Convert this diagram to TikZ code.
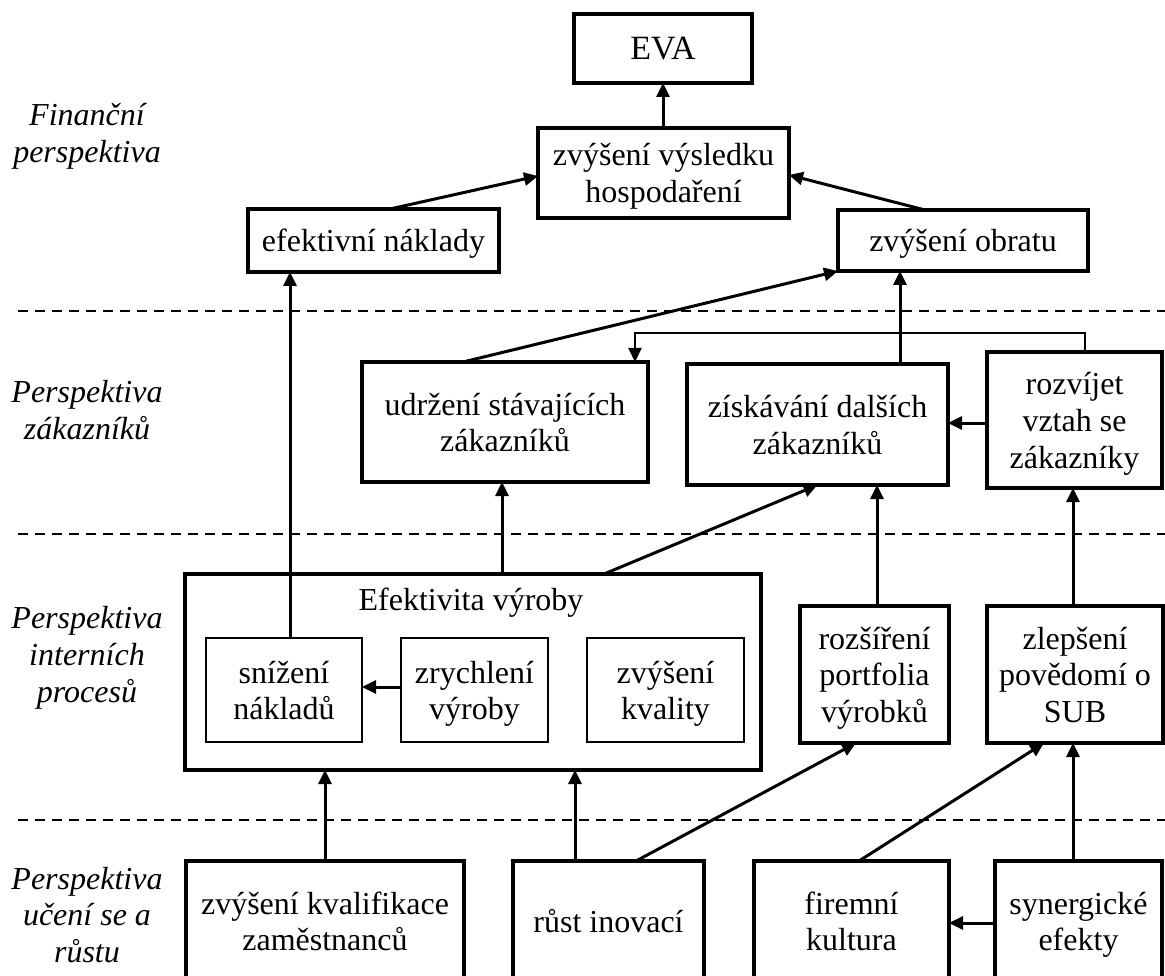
\documentclass[tikz,border=0pt]{standalone}
\usepackage{fontspec}
\setmainfont{Liberation Serif}
\usetikzlibrary{arrows.meta,calc}
\newcommand{\mytop}{\rule{0pt}{30.8pt}}
\newcommand{\mybot}{\rule[-8pt]{0pt}{8pt}}
\begin{document}
\begin{tikzpicture}[x=1pt,y=-1pt,
  every node/.style={font=\fontsize{32}{36.8}\selectfont, align=center, inner sep=0pt, outer sep=0pt},
  sz/.style 2 args={minimum width=#1pt, minimum height=#2pt},
  bx/.style={draw, line width=4pt},
  ibx/.style={draw, line width=2pt},
  arr/.style={line width=3pt, -{Triangle[length=14pt,width=13pt]}},
  thinarr/.style={line width=2pt, -{Triangle[length=14pt,width=13pt]}},
  dline/.style={line width=2pt, dash pattern=on 10pt off 7pt},
  lbl/.style={font=\fontsize{32}{36.8}\selectfont\itshape}]
\useasboundingbox (0,0) rectangle (1165,976);
\clip (0,0) rectangle (1165,976);

% separators
\draw[dline] (18,311) -- (1165,311);
\draw[dline] (18,534) -- (1165,534);
\draw[dline] (18,820) -- (1165,820);

% left labels
\node[lbl] (l1) at (87,136) {Finanční\\perspektiva};
\node[lbl] (l2) at (87,410) {Perspektiva\\zákazníků};
\node[lbl] (l3) at (87,658) {Perspektiva\\interních\\procesů};
\node[lbl] (l4) at (87,915) {Perspektiva\\učení se a\\růstu};

% boxes
\node[bx, sz={178}{69}, font=\fontsize{34}{39}\selectfont] (eva) at (663,48.5) {\mytop E{}V{}A\mybot};
\node[bx, sz={251}{90}] (vys) at (663.5,173) {\mytop zvýšení výsledku\\hospodaření\mybot};
\node[bx, sz={251}{63}] (efn) at (373.5,240.5) {\mytop efektivní náklady\mybot};
\node[bx, sz={250}{61}] (obr) at (963,240.5) {\mytop zvýšení obratu\mybot};
\node[bx, sz={286}{120}] (udr) at (505,422) {\mytop udržení stávajících\\zákazníků\mybot};
\node[bx, sz={261}{121}] (zis) at (817.5,424.5) {\mytop získávání dalších\\zákazníků\mybot};
\node[bx, sz={175}{136}] (roz) at (1074.5,420) {\mytop rozvíjet\\vztah se\\zákazníky\mybot};
\node[bx, sz={576}{196}] (efv) at (473,672) {};
\node (efvt) at (471,603) {Efektivita výroby};
\node[ibx, sz={156}{104}] (sni) at (284,690) {\mytop snížení\\nákladů\mybot};
\node[ibx, sz={147}{104}] (zry) at (474.5,690) {\mytop zrychlení\\výroby\mybot};
\node[ibx, sz={157}{104}] (kva) at (665.5,690) {\mytop zvýšení\\kvality\mybot};
\node[bx, sz={149}{137}] (rzs) at (874.5,674.5) {\mytop rozšíření\\portfolia\\výrobků\mybot};
\node[bx, sz={176}{137}] (zle) at (1075,674.5) {\mytop zlepšení\\povědomí o\\SUB\mybot};
\node[bx, sz={278}{120}] (kval) at (325,921) {\mytop zvýšení kvalifikace\\zaměstnanců\mybot};
\node[bx, sz={191}{120}] (rust) at (608.5,921) {\mytop růst inovací\mybot};
\node[bx, sz={195}{120}] (fir) at (851.5,921) {\mytop firemní\\kultura\mybot};
\node[bx, sz={167}{120}] (syn) at (1078.5,921) {\mytop synergické\\efekty\mybot};

% connectors
\draw[arr] (eva.south |- vys.north) -- (eva.south);
\draw[arr] ([xshift=16.5pt]efn.north) -- ([yshift=-3pt]vys.west);
\draw[arr] ([xshift=-38pt]obr.north) -- ([yshift=-2pt]vys.east);
\draw[arr] ([xshift=6pt]sni.north) -- ([xshift=6pt]sni.north |- efn.south);
\draw[arr] ([xshift=-42pt]udr.north) -- (obr.south west);
\draw[arr] ([xshift=82.5pt]zis.north) -- ([xshift=82.5pt]zis.north |- obr.south);
\draw[thinarr] ([xshift=10.5pt]roz.north) -- ++(0,-19) -| ([xshift=130pt]udr.north);
\draw[arr] ([yshift=-3pt]roz.west) -- ([yshift=-3pt]roz.west -| zis.east);
\draw[arr] ([xshift=-3pt]udr.south |- efv.north) -- ([xshift=-3pt]udr.south);
\draw[arr] ([xshift=131pt]efv.north) -- (zis.south);
\draw[arr] ([yshift=3pt]zry.west) -- ([yshift=3pt]sni.east);
\draw[arr] ([xshift=2.5pt]rzs.north) -- ([xshift=2.5pt]rzs.north |- zis.south);
\draw[arr] ([xshift=-2pt]zle.north) -- ([xshift=-2pt]zle.north |- roz.south);
\draw[arr] (kval.north) -- (kval.north |- efv.south);
\draw[arr] ([xshift=-33.5pt]rust.north) -- ([xshift=-33.5pt]rust.north |- efv.south);
\draw[arr] ([xshift=27.5pt]rust.north) -- ([xshift=-18.5pt]rzs.south);
\draw[arr] ([xshift=7.5pt]fir.north) -- ([xshift=-31pt]zle.south);
\draw[arr] ([xshift=-5.5pt]syn.north) -- ([xshift=-5.5pt]syn.north |- zle.south);
\draw[arr] ([yshift=-2pt]syn.west) -- ([yshift=-2pt]syn.west -| fir.east);
\end{tikzpicture}
\end{document}
